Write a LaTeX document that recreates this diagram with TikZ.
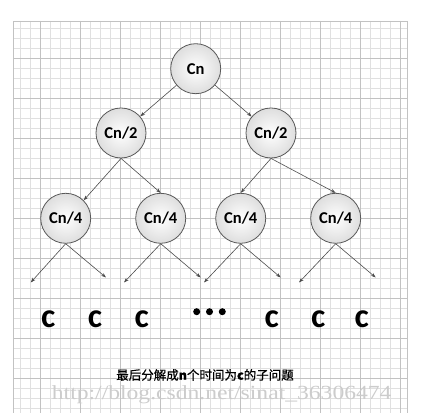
\documentclass[tikz,border=0pt]{standalone}
\usepackage{fontspec}
\newfontfamily\nodefont{Carlito}
\newfontfamily\cjkfont[FakeBold=0.6]{Noto Sans CJK SC}
\newfontfamily\markfont{Liberation Serif}
\usetikzlibrary{arrows.meta}

\begin{document}
\begin{tikzpicture}[x=1pt,y=-1pt,
     gridline/.style={draw=black!12,line width=0.5pt},
     gridmajor/.style={draw=black!24,line width=0.6pt},
     subprob/.style={circle,draw=black!65,line width=0.8pt,inner color=white,outer color=black!13,
       minimum size=50pt,inner sep=0pt,font=\nodefont\bfseries\fontsize{16.5}{18}\selectfont},
     link/.style={draw=black!70,line width=0.6pt,-{Stealth[length=5pt,width=3.5pt]}},
     unit/.style={font=\nodefont\bfseries\fontsize{34}{36}\selectfont,inner sep=0pt,anchor=base}]
     \useasboundingbox[fill=white] (0,0) rectangle (437,419);

     % grid paper
     \def\gl{13} \def\gr{407} \def\gt{21} \def\gb{413}
     \foreach \gx in {20.7,30.7,...,400.7} \draw[gridline] (\gx,\gt) -- (\gx,\gb);
     \foreach \gy in {28.3,38.3,...,408.3} \draw[gridline] (\gl,\gy) -- (\gr,\gy);
     \foreach \gx in {40.7,80.7,...,400.7} \draw[gridmajor] (\gx,\gt) -- (\gx,\gb);
     \foreach \gy in {58.3,98.3,...,408.3} \draw[gridmajor] (\gl,\gy) -- (\gr,\gy);
     \draw[gridmajor] (\gl,\gb) -- (\gl,\gt) -- (\gr,\gt) -- (\gr,\gb);

     \node[subprob] (cn) at (195.7,68.7) {Cn};
     \node[subprob] (cnl) at (121,133) {Cn/2};
     \node[subprob] (cnr) at (271,133) {Cn/2};
     \node[subprob] (q1) at (65.7,218.3) {Cn/4};
     \node[subprob] (q2) at (160.7,218.3) {Cn/4};
     \node[subprob] (q3) at (240.7,218.3) {Cn/4};
     \node[subprob] (q4) at (335.7,218.3) {Cn/4};

     \draw[link] (cn) -- (cnl);
     \draw[link] (cn) -- (cnr);
     \draw[link] (cnl.south) -- (q1.north east);
     \draw[link] (cnl.south) -- (q2.north);
     \draw[link] (cnr.south) -- (q3.north);
     \draw[link] (cnr.south) -- (q4.north);

     \foreach \q/\lx/\rx in {q1/30.7/106,q2/124/200.7,q3/204/280.7,q4/299/375.7}{
       \coordinate (\q-l) at (\lx,282.5);
       \coordinate (\q-r) at (\rx,277.5);
       \draw[link] (\q.south) -- (\q-l);
       \draw[link] (\q.south) -- (\q-r);
     }

     \node[unit] (c1) at (48.3,327.3) {c};
     \node[unit] (c2) at (95,327.3) {c};
     \node[unit] (c3) at (141.7,327.3) {c};
     \foreach \dx in {196.7,209.5,222.3} \fill (\dx,311.7) circle (3.5);
     \node[unit] (c4) at (271.7,327.3) {c};
     \node[unit] (c5) at (318.3,327.3) {c};
     \node[unit] (c6) at (361.7,327.3) {c};

     \node[font=\cjkfont\fontsize{12.5}{14}\selectfont] (caption) at (205,375) {最后分解成\textbf{n}个时间为\textbf{c}的子问题};
     \node[text=black!20,font=\markfont\fontsize{20}{22}\selectfont] (mark) at (221.7,395) {\scalebox{1.18}[1]{http://blog.csdn.net/sinat\_36306474}};
\end{tikzpicture}
\end{document}
